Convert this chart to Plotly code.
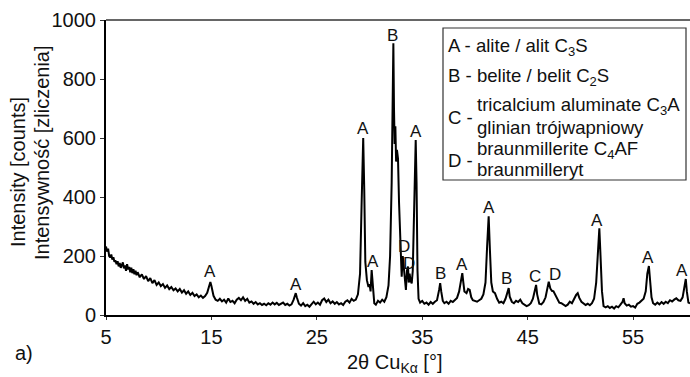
import plotly.graph_objects as go

# ---- data (2theta in degrees, intensity in counts) ----
two_theta = [
    5.0, 5.1, 5.2, 5.3, 5.4, 5.5, 5.6, 5.7, 5.8, 5.9, 6.0, 6.1, 6.2, 6.3, 6.4, 6.5, 6.6, 6.7, 6.8, 6.9,
    7.0, 7.1, 7.2, 7.3, 7.4, 7.5, 7.6, 7.7, 7.8, 7.9, 8.0, 8.2, 8.4, 8.6, 8.8, 9.0, 9.2, 9.4, 9.6, 9.8,
    10.0, 10.2, 10.4, 10.6, 10.8, 11.0, 11.2, 11.4, 11.6, 11.8, 12.0, 12.2, 12.4, 12.6, 12.8, 13.0, 13.2, 13.4, 13.6, 13.8,
    14.0, 14.2, 14.4, 14.6, 14.8, 14.9, 15.0, 15.2, 15.4, 15.6, 15.8, 16.0, 16.2, 16.4, 16.6, 16.8, 17.0, 17.2, 17.4, 17.6,
    17.8, 18.0, 18.2, 18.4, 18.6, 18.8, 19.0, 19.2, 19.4, 19.6, 19.8, 20.0, 20.2, 20.4, 20.6, 20.8, 21.0, 21.2, 21.4, 21.6,
    21.8, 22.0, 22.2, 22.4, 22.6, 22.8, 23.0, 23.1, 23.3, 23.5, 23.7, 23.9, 24.1, 24.3, 24.5, 24.7, 24.9, 25.1, 25.3, 25.5,
    25.7, 25.9, 26.1, 26.3, 26.5, 26.7, 26.9, 27.1, 27.3, 27.5, 27.7, 27.9, 28.1, 28.3, 28.5, 28.7, 28.9, 29.1, 29.25, 29.4,
    29.5, 29.6, 29.75, 29.9, 30.0, 30.1, 30.2, 30.3, 30.45, 30.6, 30.8, 31.0, 31.2, 31.4, 31.6, 31.8, 31.95, 32.1, 32.2, 32.26,
    32.32, 32.38, 32.45, 32.52, 32.6, 32.7, 32.8, 32.9, 33.0, 33.05, 33.15, 33.25, 33.35, 33.45, 33.55, 33.65, 33.72, 33.8, 33.9, 34.0,
    34.1, 34.2, 34.3, 34.38, 34.46, 34.55, 34.65, 34.8, 35.0, 35.2, 35.4, 35.6, 35.8, 36.0, 36.2, 36.4, 36.6, 36.7, 36.8, 36.95,
    37.1, 37.3, 37.5, 37.7, 37.9, 38.1, 38.3, 38.5, 38.7, 38.8, 38.9, 39.0, 39.2, 39.35, 39.5, 39.65, 39.8, 40.0, 40.2, 40.4,
    40.6, 40.8, 41.0, 41.15, 41.3, 41.42, 41.55, 41.7, 41.9, 42.1, 42.3, 42.5, 42.7, 42.9, 43.1, 43.2, 43.3, 43.5, 43.7, 43.9,
    44.1, 44.3, 44.5, 44.7, 44.9, 45.1, 45.3, 45.5, 45.7, 45.8, 45.9, 46.1, 46.3, 46.5, 46.7, 46.9, 47.0, 47.15, 47.3, 47.45,
    47.6, 47.8, 48.0, 48.2, 48.4, 48.6, 48.8, 49.0, 49.2, 49.4, 49.6, 49.75, 49.9, 50.1, 50.3, 50.5, 50.7, 50.9, 51.1, 51.3,
    51.5, 51.65, 51.8, 51.9, 52.05, 52.2, 52.4, 52.6, 52.8, 53.0, 53.2, 53.4, 53.6, 53.8, 54.0, 54.1, 54.2, 54.4, 54.6, 54.8,
    55.0, 55.2, 55.4, 55.6, 55.8, 56.0, 56.2, 56.35, 56.5, 56.6, 56.75, 56.9, 57.1, 57.3, 57.5, 57.7, 57.9, 58.1, 58.3, 58.5,
    58.7, 58.9, 59.1, 59.3, 59.5, 59.7, 59.85, 60.0, 60.1, 60.25, 60.4,
]
counts = [
    232, 215, 225, 200, 195, 205, 188, 196, 180, 185, 172, 182, 165, 176, 160, 170, 178, 158, 168, 150,
    172, 155, 163, 145, 160, 142, 155, 138, 150, 135, 145, 128, 138, 122, 132, 115, 125, 108, 118, 102,
    110, 98, 105, 92, 100, 88, 95, 84, 90, 80, 88, 76, 84, 72, 80, 68, 75, 64, 70, 60,
    66, 58, 64, 75, 105, 112, 98, 65, 52, 48, 55, 46, 52, 42, 56, 44, 48, 40, 52, 58,
    50, 60, 48, 55, 42, 46, 38, 44, 36, 40, 34, 38, 33, 40, 35, 42, 36, 41, 34, 38,
    42, 34, 38, 32, 36, 52, 74, 60, 38, 32, 40, 30, 35, 28, 38, 45, 36, 42, 35, 50,
    56, 44, 52, 40, 46, 38, 44, 36, 40, 34, 45, 50, 42, 55, 48, 52, 70, 140, 380, 600,
    420, 180, 118, 95, 105, 80, 152, 100, 40, 35, 48, 42, 52, 45, 60, 100, 200, 450, 800, 921,
    700, 580, 640, 520, 560, 530, 380, 277, 220, 130, 200, 150, 110, 85, 150, 164, 110, 140, 115, 107,
    150, 320, 520, 593, 450, 150, 55, 42, 48, 38, 42, 35, 44, 38, 45, 50, 85, 108, 80, 48,
    40, 45, 38, 48, 44, 52, 58, 80, 125, 142, 110, 80, 74, 88, 85, 60, 50, 48, 45, 50,
    55, 70, 110, 230, 335, 220, 110, 80, 74, 55, 42, 45, 40, 55, 85, 91, 62, 45, 40, 48,
    44, 52, 40, 35, 30, 33, 40, 55, 90, 102, 70, 38, 36, 44, 60, 105, 113, 90, 82, 80,
    70, 52, 42, 40, 35, 30, 35, 45, 40, 55, 68, 74, 58, 45, 40, 34, 38, 33, 40, 55,
    110, 230, 294, 210, 80, 30, 26, 30, 24, 28, 22, 30, 26, 35, 45, 57, 40, 32, 35, 28,
    30, 25, 38, 42, 50, 55, 80, 140, 166, 120, 60, 40, 35, 42, 36, 44, 38, 45, 40, 50,
    46, 52, 57, 50, 48, 60, 95, 122, 80, 42, 40,
]

# phase labels above the peaks
label_text = ["A", "A", "A", "A", "B", "D", "D", "A", "B", "A", "A", "B", "C", "D", "A", "A", "A"]
label_x = [14.9, 23.0, 29.4, 30.3, 32.2, 33.27, 33.75, 34.4, 36.7, 38.8, 41.3, 43.0, 45.7, 47.6, 51.6, 56.4, 59.6]
label_y = [147, 102, 633, 181, 949, 231, 176, 623, 142, 171, 366, 124, 132, 139, 322, 196, 150]

x_ticks = [5, 15, 25, 35, 45, 55]
y_ticks = [0, 200, 400, 600, 800, 1000]

legend_rows = [
    ("A - alite / alit C<sub>3</sub>S", 446, 47),
    ("B - belite / belit C<sub>2</sub>S", 446, 77),
    ("C -", 446, 117),
    ("tricalcium aluminate C<sub>3</sub>A", 475, 106),
    ("glinian trójwapniowy", 475, 127),
    ("D -", 446, 160),
    ("braunmillerite C<sub>4</sub>AF", 475, 150),
    ("braunmilleryt", 475, 169),
]

# ---- figure geometry ----
W, H = 690, 377
L, R, T, B = 106, 0, 20, 62
PW, PH = W - L - R, H - T - B
FONT = "Liberation Sans, Arial, sans-serif"


def px(xp):
    return (xp - L) / PW


def py(yp):
    return (H - B - yp) / PH


fig = go.Figure()
fig.add_trace(go.Scatter(
    x=two_theta, y=counts, mode="lines",
    line=dict(color="black", width=2), hoverinfo="skip", showlegend=False,
))

for t, xv, yv in zip(label_text, label_x, label_y):
    fig.add_annotation(x=xv, y=yv, xref="x", yref="y", text=t, showarrow=False,
                       font=dict(size=17, color="#111", family=FONT),
                       xanchor="center", yanchor="middle")

# legend box
fig.add_shape(type="rect", xref="paper", yref="paper",
              x0=px(443), x1=px(686), y0=py(180), y1=py(28),
              line=dict(color="#333", width=1.2), fillcolor="white", layer="below")
for t, xp, yp in legend_rows:
    fig.add_annotation(x=px(xp), y=py(yp), xref="paper", yref="paper", text=t,
                       showarrow=False, xanchor="left", yanchor="middle",
                       font=dict(size=18.6, color="#111", family=FONT))

# top frame line
fig.add_shape(type="line", xref="paper", yref="paper", x0=0, x1=1, y0=1, y1=1,
              line=dict(color="#333", width=1.5))

# axis titles
fig.add_annotation(x=px(18), y=py(172), xref="paper", yref="paper", text="Intensity [counts]",
                   showarrow=False, textangle=-90, xanchor="center", yanchor="middle",
                   font=dict(size=20, color="#111", family=FONT))
fig.add_annotation(x=px(42), y=py(153), xref="paper", yref="paper", text="Intensywność [zliczenia]",
                   showarrow=False, textangle=-90, xanchor="center", yanchor="middle",
                   font=dict(size=20, color="#111", family=FONT))
fig.add_annotation(x=px(394), y=py(363), xref="paper", yref="paper",
                   text="2θ Cu<sub>Kα</sub> [°]", showarrow=False,
                   xanchor="center", yanchor="middle",
                   font=dict(size=20, color="#111", family=FONT))
fig.add_annotation(x=px(24), y=py(353), xref="paper", yref="paper", text="a)",
                   showarrow=False, xanchor="center", yanchor="middle",
                   font=dict(size=20, color="#111", family=FONT))

fig.update_layout(
    width=W, height=H,
    margin=dict(l=L, r=R, t=T, b=B),
    paper_bgcolor="white", plot_bgcolor="white",
    font=dict(family=FONT, size=20, color="#111"),
    showlegend=False,
)
fig.update_xaxes(range=[5, 60.4], tickvals=x_ticks, ticks="outside", ticklen=3, tickwidth=1,
                 tickcolor="#333", showline=True, linecolor="black", linewidth=2,
                 showgrid=False, zeroline=False, tickfont=dict(size=20))
fig.update_yaxes(range=[0, 1000], tickvals=y_ticks, ticks="outside", ticklen=4, tickwidth=1,
                 tickcolor="#333", showline=True, linecolor="black", linewidth=2,
                 showgrid=False, zeroline=False, tickfont=dict(size=20))

fig.write_html("out.html", config={"displayModeBar": False},
               post_script="document.body.style.margin='0';document.body.style.padding='0';")
